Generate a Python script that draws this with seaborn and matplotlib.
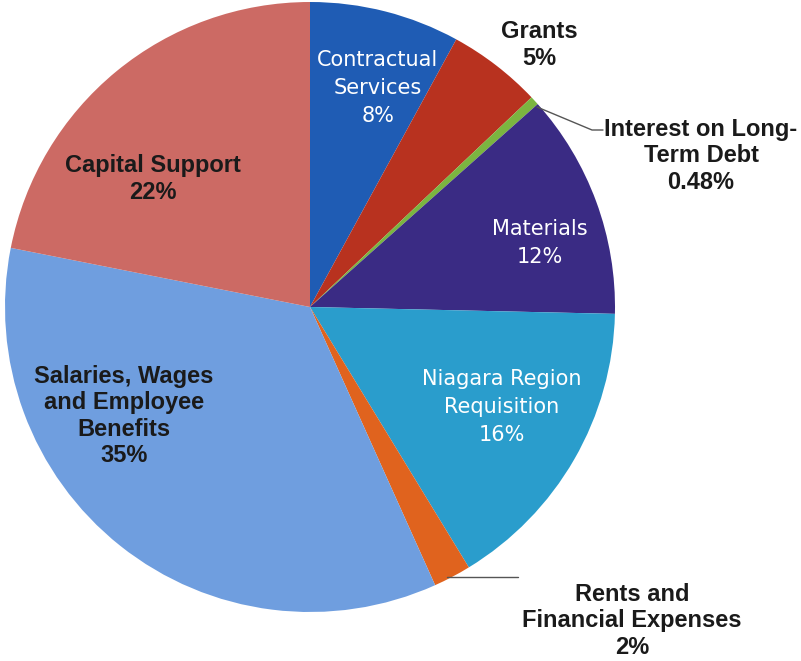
import matplotlib
matplotlib.use("Agg")
import matplotlib.pyplot as plt
import seaborn as sns

# expense categories, clockwise from the top
categories = ["Contractual\nServices", "Grants", "Interest on Long-\nTerm Debt",
              "Materials", "Niagara Region\nRequisition", "Rents and\nFinancial Expenses",
              "Salaries, Wages\nand Employee\nBenefits", "Capital Support"]
shares = [8, 5, 0.48, 12, 16, 2, 35, 22]
pct_labels = ["8%", "5%", "0.48%", "12%", "16%", "2%", "35%", "22%"]

colors = sns.color_palette(["#1f5cb4", "#b8321f", "#7bb540", "#3a2b84",
                            "#2a9dcc", "#e0631e", "#6f9edf", "#cc6a64"])

sns.set_theme(style="white")
plt.rcParams["font.family"] = ["Liberation Sans", "DejaVu Sans"]

fig = plt.figure(figsize=(8.01, 6.61), dpi=100)
W, H = 801, 661
cx, cy, r = 310, 307, 305
ax = fig.add_axes([(cx - r) / W, (H - cy - r) / H, 2 * r / W, 2 * r / H])
ax.pie(shares, colors=colors, startangle=90, counterclock=False,
       wedgeprops=dict(linewidth=0))
ax.set_xlim(-1, 1)
ax.set_ylim(-1, 1)
ax.set_aspect("equal")
ax.axis("off")


def px(x, y):
    return ((x - cx) / r, (cy - y) / r)


# label placement (pixel positions on the original picture)
inside_white = {0: (378, 88), 3: (540, 243), 4: (502, 407)}
black_labels = {6: (124, 416), 7: (153, 179), 1: (539, 45), 2: (701, 156),
                5: (632, 621)}

for i, (x, y) in inside_white.items():
    ax.text(*px(x, y), f"{categories[i]}\n{pct_labels[i]}", color="white",
            fontsize=15, family="DejaVu Sans", ha="center", va="center",
            linespacing=1.5)
for i, (x, y) in black_labels.items():
    ax.text(*px(x, y), f"{categories[i]}\n{pct_labels[i]}", color="#1a1a1a",
            fontsize=17, fontweight="bold", ha="center", va="center",
            linespacing=1.2, clip_on=False)

# leader lines for the small slices
ax.plot(*zip(px(537, 107), px(592, 130), px(603, 130)), color="#555555",
        lw=1, clip_on=False)
ax.plot(*zip(px(447, 577), px(518, 577)), color="#555555", lw=1, clip_on=False)

fig.savefig("out.png", dpi=100)
